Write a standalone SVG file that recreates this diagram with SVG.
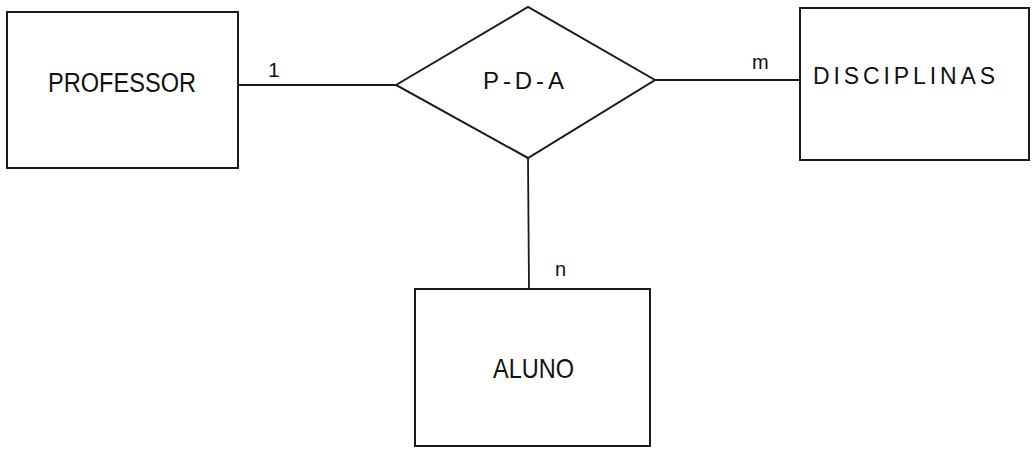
<svg xmlns="http://www.w3.org/2000/svg" width="1035" height="449" viewBox="0 0 1035 449">
<style>
.box{fill:none;stroke:#1a1a1a;stroke-width:2}
.ln{fill:none;stroke:#1a1a1a;stroke-width:1.8}
.t{font-family:"Liberation Sans","DejaVu Sans",sans-serif;fill:#111;}
</style>
<rect width="1035" height="449" fill="#ffffff"/>
<g id="connectors">
<line class="ln" x1="238" y1="85" x2="396" y2="85"/>
<line class="ln" x1="655" y1="80" x2="800" y2="80"/>
<line class="ln" x1="528" y1="158" x2="529" y2="289"/>
<text class="t" x="268" y="77" font-size="21">1</text>
<text class="t" x="752" y="69" font-size="20">m</text>
<text class="t" x="555" y="276" font-size="20">n</text>
</g>
<g id="professor">
<rect class="box" x="7" y="12" width="231" height="156"/>
<text class="t" x="48" y="92" font-size="27" textLength="148" lengthAdjust="spacingAndGlyphs">PROFESSOR</text>
</g>
<g id="pda">
<polygon class="box" points="396,85 528,7 655,80 528,158"/>
<text class="t" x="483" y="89" font-size="24" textLength="81" lengthAdjust="spacing">P-D-A</text>
</g>
<g id="disciplinas">
<rect class="box" x="800" y="8" width="229" height="152"/>
<text class="t" x="813" y="84" font-size="23" textLength="182" lengthAdjust="spacing">DISCIPLINAS</text>
</g>
<g id="aluno">
<rect class="box" x="415" y="289" width="235" height="157"/>
<text class="t" x="493" y="378" font-size="28" textLength="81" lengthAdjust="spacingAndGlyphs">ALUNO</text>
</g>
</svg>
